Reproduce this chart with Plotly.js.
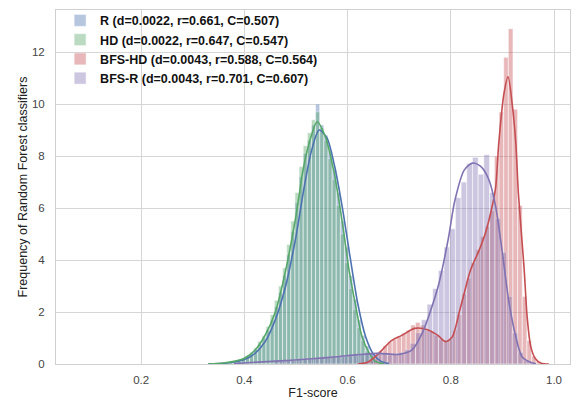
<!DOCTYPE html>
<html>
<head>
<meta charset="utf-8">
<script src="https://cdn.plot.ly/plotly-3.0.1.min.js"></script>
<style>html,body{margin:0;padding:0;background:#fff;}#chart{width:576px;height:404px;}</style>
</head>
<body>
<div id="chart"></div>
<script>
// ---- Series names (legend labels) ----
const seriesNames = [
  "R (d=0.0022, r=0.661, C=0.507)",
  "HD (d=0.0022, r=0.647, C=0.547)",
  "BFS-HD (d=0.0043, r=0.588, C=0.564)",
  "BFS-R (d=0.0043, r=0.701, C=0.607)"
];

// ---- Histogram bins (first bin centre and bin width) ----
const binStartRHD = 0.334, binWidthRHD = 0.008;
const binStartBFSHD = 0.628, binWidthBFSHD = 0.009;
const binStartBFSR = 0.4625, binWidthBFSR = 0.011;

// ---- Histogram heights (density) ----
const histR = [0.02,0.03,0.04,0.05,0.06,0.08,0.10,0.13,0.18,0.26,0.38,0.55,0.78,1.0,1.3,1.7,2.2,2.75,3.4,4.2,5.1,6.2,7.2,8.1,8.6,9.2,10.0,9.2,8.8,8.2,7.5,6.6,5.5,4.5,3.4,2.5,1.7,1.1,0.7,0.4,0.2,0.1,0.05,0.03,0.01];
const histHD = [0.03,0.04,0.05,0.07,0.08,0.10,0.13,0.16,0.22,0.32,0.45,0.62,0.88,1.10,1.45,1.90,2.45,3.0,3.7,4.6,5.5,6.6,7.6,8.4,8.9,9.4,9.7,9.1,8.6,7.9,7.1,6.1,5.0,3.9,2.9,2.1,1.4,0.9,0.5,0.28,0.14,0.07,0.04,0.02,0.01];
const histBFSHD = [0.02,0.05,0.12,0.3,0.5,0.7,0.85,0.95,1.05,1.2,1.3,1.5,1.6,1.5,1.3,1.25,1.1,0.95,0.85,0.95,1.3,1.9,2.7,3.3,3.9,4.4,4.9,5.3,5.9,8.0,9.7,11.8,12.9,9.8,6.1,2.6,0.9,0.3,0.1,0.03];
const histBFSR = [0.1,0.12,0.15,0.15,0.18,0.2,0.2,0.22,0.25,0.25,0.28,0.3,0.3,0.32,0.35,0.4,0.4,0.42,0.45,0.4,0.35,0.4,0.45,0.55,0.8,1.2,1.7,2.3,2.9,3.6,4.5,5.2,6.4,7.0,7.7,7.95,7.3,8.05,6.6,5.6,4.3,2.6,1.2,0.45,0.15,0.05];

// ---- KDE curves ----
const kdeRX = [0.33,0.36,0.38,0.40,0.42,0.44,0.46,0.48,0.50,0.515,0.53,0.545,0.56,0.575,0.59,0.605,0.62,0.635,0.65,0.665,0.68];
const kdeRY = [0.0,0.03,0.08,0.17,0.4,0.85,1.7,3.0,4.9,6.7,8.2,9.0,8.7,7.6,6.0,4.1,2.3,1.05,0.38,0.1,0.02];
const kdeHDX = [0.33,0.36,0.38,0.40,0.42,0.44,0.46,0.48,0.50,0.515,0.53,0.541,0.557,0.574,0.59,0.603,0.616,0.628,0.642,0.654,0.67];
const kdeHDY = [0.0,0.04,0.1,0.22,0.52,1.1,2.0,3.6,5.7,7.6,8.8,9.32,8.74,7.35,5.42,3.6,2.2,1.05,0.42,0.1,0.01];
const kdeBFSHDX = [0.62,0.64,0.66,0.685,0.705,0.73,0.755,0.775,0.79,0.803,0.816,0.826,0.838,0.855,0.867,0.88,0.887,0.893,0.903,0.911,0.919,0.926,0.931,0.942,0.948,0.955,0.964,0.975,0.99];
const kdeBFSHDY = [0.0,0.08,0.4,0.9,1.1,1.37,1.32,1.1,0.86,1.05,1.96,2.72,3.6,4.38,5.03,6.05,6.8,8.5,10.4,11.05,10.0,8.5,6.56,3.7,1.8,0.67,0.2,0.03,0.0];
const kdeBFSRX = [0.38,0.47,0.53,0.58,0.62,0.66,0.70,0.725,0.745,0.76,0.777,0.795,0.808,0.826,0.842,0.858,0.874,0.887,0.90,0.913,0.926,0.938,0.952,0.965];
const kdeBFSRY = [0.02,0.12,0.2,0.28,0.36,0.41,0.37,0.54,1.2,2.0,3.1,4.8,6.3,7.46,7.73,7.6,7.08,6.05,4.27,2.34,1.05,0.28,0.09,0.01];

// ---- Axis ticks ----
const xTicks = [0.2,0.4,0.6,0.8,1.0];
const xTickLabels = ["0.2","0.4","0.6","0.8","1.0"];
const yTicks = [0,2,4,6,8,10,12];

// ---- Style ----
const colors = ["#4C72B0","#55A868","#C44E52","#8172B2"];
const FONT = "Liberation Sans, Arial, Helvetica, sans-serif";

function hist(name, x0, dx, y, color) {
  return {type:"bar", name:name, x0:x0, dx:dx, y:y, width:dx,
    marker:{color:color, line:{color:"rgba(255,255,255,0.9)", width:0.6}},
    opacity:0.4, showlegend:true, hoverinfo:"skip"};
}
function kde(x, y, color) {
  return {type:"scatter", mode:"lines", x:x, y:y, showlegend:false,
    line:{color:color, width:1.6, shape:"spline", smoothing:0.8}, hoverinfo:"skip"};
}

const data = [
  hist(seriesNames[0], binStartRHD, binWidthRHD, histR, colors[0]),
  kde(kdeRX, kdeRY, colors[0]),
  hist(seriesNames[1], binStartRHD, binWidthRHD, histHD, colors[1]),
  kde(kdeHDX, kdeHDY, colors[1]),
  hist(seriesNames[2], binStartBFSHD, binWidthBFSHD, histBFSHD, colors[2]),
  kde(kdeBFSHDX, kdeBFSHDY, colors[2]),
  hist(seriesNames[3], binStartBFSR, binWidthBFSR, histBFSR, colors[3]),
  kde(kdeBFSRX, kdeBFSRY, colors[3])
];

const layout = {
  width:576, height:404,
  margin:{l:56, r:6, t:10, b:40},
  paper_bgcolor:"#fff", plot_bgcolor:"#fff",
  barmode:"overlay", bargap:0,
  font:{family:FONT, size:11, color:"#333"},
  xaxis:{range:[0.035,1.031], tickvals:xTicks, ticktext:xTickLabels,
    showgrid:true, gridcolor:"#d6d6d6", gridwidth:1, zeroline:false,
    showline:true, linecolor:"#d0d0d0", linewidth:1, mirror:true,
    ticks:"", ticklabelstandoff:5, tickfont:{size:11.5, color:"#444"},
    title:{text:"F1-score", font:{size:12.5, color:"#222"}, standoff:3}},
  yaxis:{range:[0,13.62], tickvals:yTicks,
    showgrid:true, gridcolor:"#d6d6d6", gridwidth:1, zeroline:false,
    showline:true, linecolor:"#d0d0d0", linewidth:1, mirror:true,
    ticks:"", ticklabelstandoff:8, tickfont:{size:11.5, color:"#444"},
    title:{text:"Frequency of Random Forest classifiers", font:{size:12.5, color:"#222"}, standoff:1}},
  legend:{x:0.008, y:1.012, xanchor:"left", yanchor:"top",
    bgcolor:"rgba(255,255,255,0)", borderwidth:0,
    font:{family:FONT, size:12.5, color:"#111", weight:"bold"},
    itemwidth:30, tracegroupgap:0}
};

Plotly.newPlot("chart", data, layout, {displayModeBar:false, staticPlot:true});
</script>
</body>
</html>
